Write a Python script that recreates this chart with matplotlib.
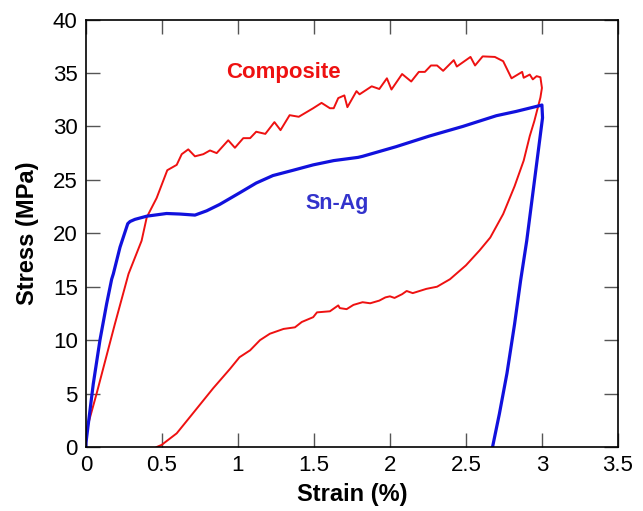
import matplotlib
matplotlib.use('Agg')
import matplotlib.pyplot as plt

plt.rcParams['font.family'] = ['Liberation Sans', 'DejaVu Sans']

# Composite (red) - loading then unloading
comp_strain = [0.0, 0.004, 0.07, 0.19, 0.28, 0.366, 0.40, 0.465, 0.535, 0.597, 0.63, 0.673,
               0.717, 0.772, 0.816, 0.86, 0.936, 0.98, 1.035, 1.08, 1.12, 1.18, 1.24, 1.28,
               1.34, 1.40, 1.495, 1.55, 1.605, 1.63, 1.66, 1.70, 1.72, 1.78, 1.80, 1.88, 1.93,
               1.98, 2.01, 2.08, 2.14, 2.19, 2.23, 2.27, 2.31, 2.35, 2.42, 2.44, 2.53, 2.56,
               2.61, 2.69, 2.745, 2.80, 2.87, 2.88, 2.92, 2.94, 2.965, 2.99, 3.0,
               2.99, 2.95, 2.92, 2.88, 2.82, 2.745, 2.66, 2.59, 2.50, 2.395, 2.31, 2.24,
               2.15, 2.11, 2.08, 2.03, 2.0, 1.97, 1.93, 1.87, 1.82, 1.76, 1.715, 1.67, 1.66,
               1.605, 1.52, 1.495, 1.42, 1.375, 1.30, 1.21, 1.145, 1.08, 1.01, 0.947, 0.837,
               0.695, 0.597, 0.498, 0.465]
comp_stress = [0.0, 1.6, 5.0, 11.5, 16.2, 19.3, 21.5, 23.3, 25.9, 26.4, 27.4, 27.85,
               27.2, 27.4, 27.75, 27.5, 28.7, 28.0, 28.9, 28.9, 29.5, 29.3, 30.4, 29.65,
               31.05, 30.9, 31.7, 32.2, 31.7, 31.7, 32.65, 32.9, 31.8, 33.3, 33.0, 33.75, 33.5,
               34.5, 33.45, 34.9, 34.2, 35.1, 35.1, 35.7, 35.7, 35.2, 36.2, 35.6, 36.5, 35.7,
               36.55, 36.5, 36.1, 34.5, 35.1, 34.55, 34.85, 34.4, 34.7, 34.6, 33.6,
               32.7, 30.5, 29.1, 26.8, 24.4, 21.8, 19.6, 18.4, 17.0, 15.7, 15.0, 14.8,
               14.4, 14.6, 14.3, 13.95, 14.1, 14.0, 13.7, 13.45, 13.55, 13.3, 12.9, 13.0, 13.25,
               12.7, 12.6, 12.15, 11.7, 11.2, 11.05, 10.6, 10.0, 9.05, 8.4, 7.3, 5.5,
               3.0, 1.28, 0.2, 0.0]

# Sn-Ag (blue) - loading then unloading
snag_strain = [0.0, 0.0, 0.048, 0.092, 0.136, 0.169, 0.18, 0.224, 0.275, 0.29, 0.322, 0.40, 0.53,
               0.618, 0.717, 0.794, 0.88, 1.013, 1.12, 1.23, 1.364, 1.495, 1.63, 1.79, 1.82,
               2.04, 2.26, 2.48, 2.70, 2.83, 2.987, 3.0,
               3.004, 2.90, 2.86, 2.82, 2.77, 2.72, 2.675]
snag_stress = [0.0, 0.4, 5.9, 10.0, 13.4, 15.7, 16.2, 18.7, 20.9, 21.1, 21.3, 21.6, 21.85,
               21.8, 21.7, 22.1, 22.7, 23.8, 24.7, 25.4, 25.9, 26.4, 26.8, 27.1, 27.2,
               28.1, 29.1, 30.0, 31.0, 31.4, 31.95, 32.0,
               30.8, 19.3, 15.6, 11.5, 6.9, 3.1, 0.0]

xticks = [0, 0.5, 1, 1.5, 2, 2.5, 3, 3.5]
xticklabels = ['0', '0.5', '1', '1.5', '2', '2.5', '3', '3.5']
yticks = [0, 5, 10, 15, 20, 25, 30, 35, 40]

fig = plt.figure(figsize=(6.43, 5.11), dpi=100)
ax = fig.add_axes([0.1337, 0.1252, 0.8273, 0.8366])

ax.plot(comp_strain, comp_stress, color='#ee1111', lw=1.4)
ax.plot(snag_strain, snag_stress, color='#1111dd', lw=2.3)

ax.text(1.3, 35.0, 'Composite', color='#ee1111', fontsize=16, fontweight='bold',
        ha='center', va='center')
ax.text(1.65, 22.8, 'Sn-Ag', color='#3333cc', fontsize=15.5, fontweight='bold',
        ha='center', va='center')

ax.set_xlim(0, 3.5)
ax.set_ylim(0, 40)
ax.set_xticks(xticks)
ax.set_xticklabels(xticklabels)
ax.set_yticks(yticks)
ax.tick_params(direction='in', length=10, width=1, color='#555555',
               top=True, right=True, labelsize=16, pad=6)

for s in ax.spines.values():
    s.set_linewidth(1.2)

ax.set_xlabel('Strain (%)', fontsize=17, fontweight='bold', labelpad=5)
ax.set_ylabel('Stress (MPa)', fontsize=17, fontweight='bold', labelpad=10)

fig.savefig('out.png', dpi=100)
